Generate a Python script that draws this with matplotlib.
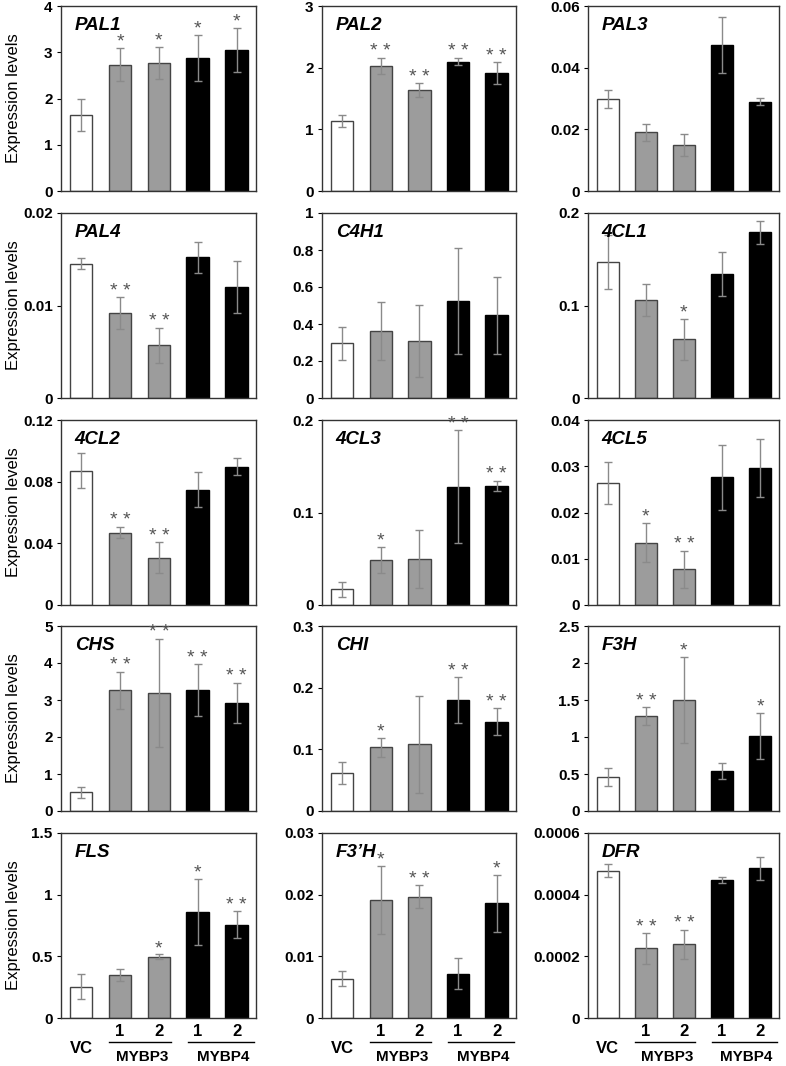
"""Expression levels of phenylpropanoid genes in VC / MYBP3 / MYBP4 lines."""
import numpy as np
import matplotlib
matplotlib.use('Agg')
import matplotlib.pyplot as plt
from matplotlib.transforms import blended_transform_factory

plt.rcParams['font.family'] = ['Liberation Sans', 'DejaVu Sans']

genes = ['PAL1', 'PAL2', 'PAL3', 'PAL4', 'C4H1', '4CL1', '4CL2', '4CL3', '4CL5',
         'CHS', 'CHI', 'F3H', 'FLS', 'F3\u2019H', 'DFR']
ymax = [4, 3, 0.06, 0.02, 1, 0.2, 0.12, 0.2, 0.04, 5, 0.3, 2.5, 1.5, 0.03, 0.0006]
nticks = [4, 3, 3, 2, 5, 2, 3, 2, 4, 5, 3, 5, 3, 3, 3]

# bars: VC, MYBP3-1, MYBP3-2, MYBP4-1, MYBP4-2
means = [
    [1.64, 2.73, 2.77, 2.88, 3.05],
    [1.14, 2.03, 1.64, 2.10, 1.91],
    [0.0298, 0.019, 0.0148, 0.0474, 0.029],
    [0.0145, 0.0092, 0.0057, 0.0152, 0.012],
    [0.297, 0.361, 0.308, 0.526, 0.446],
    [0.147, 0.106, 0.0634, 0.134, 0.179],
    [0.0872, 0.047, 0.0308, 0.0748, 0.0898],
    [0.0171, 0.0487, 0.0498, 0.128, 0.129],
    [0.0264, 0.0135, 0.0077, 0.0276, 0.0296],
    [0.51, 3.27, 3.20, 3.27, 2.92],
    [0.061, 0.103, 0.108, 0.180, 0.145],
    [0.46, 1.28, 1.50, 0.54, 1.01],
    [0.253, 0.349, 0.496, 0.858, 0.757],
    [0.0064, 0.0191, 0.0197, 0.0072, 0.0186],
    [0.000478, 0.000226, 0.000239, 0.000448, 0.000485],
]
errs = [
    [0.35, 0.36, 0.34, 0.50, 0.47],
    [0.10, 0.13, 0.11, 0.06, 0.18],
    [0.0028, 0.0028, 0.0036, 0.009, 0.0011],
    [0.0006, 0.0017, 0.0019, 0.0017, 0.0028],
    [0.089, 0.156, 0.197, 0.286, 0.21],
    [0.029, 0.017, 0.022, 0.024, 0.012],
    [0.0116, 0.0037, 0.0099, 0.0113, 0.0055],
    [0.008, 0.0138, 0.031, 0.061, 0.0055],
    [0.0045, 0.0043, 0.004, 0.0071, 0.0063],
    [0.15, 0.50, 1.46, 0.70, 0.55],
    [0.018, 0.016, 0.079, 0.037, 0.022],
    [0.12, 0.12, 0.58, 0.11, 0.31],
    [0.10, 0.046, 0.02, 0.27, 0.11],
    [0.0012, 0.0055, 0.0018, 0.0025, 0.0046],
    [0.000022, 0.00005, 0.000047, 0.00001, 0.000038],
]
sigs = [
    ['', '*', '*', '*', '*'],
    ['', '**', '**', '**', '**'],
    ['', '', '', '', ''],
    ['', '**', '**', '', ''],
    ['', '', '', '', ''],
    ['', '', '*', '', ''],
    ['', '**', '**', '', ''],
    ['', '*', '', '**', '**'],
    ['', '*', '**', '', ''],
    ['', '**', '**', '**', '**'],
    ['', '*', '', '**', '**'],
    ['', '**', '*', '', '*'],
    ['', '', '*', '*', '**'],
    ['', '*', '**', '', '*'],
    ['', '**', '**', '', ''],
]
bar_colors = ['white', '#9c9c9c', '#9c9c9c', 'black', 'black']
bar_edges = ['#444444', '#444444', '#444444', 'black', 'black']
xtick_labels = ['', '1', '2', '1', '2']
groups = [('MYBP3', 0.72, 2.3), ('MYBP4', 2.75, 4.45)]

W, H = 786, 1066
fig = plt.figure(figsize=(W / 100, H / 100), dpi=100)
col_left = [61, 322, 588]
col_w = [195, 194, 191]
row_top = [6, 213, 420, 626, 833]
ax_h = 185

x = np.arange(5)
for i, gene in enumerate(genes):
    r, c = divmod(i, 3)
    ax = fig.add_axes([col_left[c] / W, 1 - (row_top[r] + ax_h) / H,
                       col_w[c] / W, ax_h / H])
    ax.bar(x, means[i], width=0.58, color=bar_colors, edgecolor=bar_edges,
           linewidth=1.0, zorder=2)
    ax.errorbar(x, means[i], yerr=errs[i], fmt='none', ecolor='#8a8a8a',
                elinewidth=1.0, capsize=3, capthick=1.0, zorder=3)
    for xi, m, e, s in zip(x, means[i], errs[i], sigs[i]):
        if s:
            ax.annotate(' '.join(s), (xi, m + e), xytext=(0, 1),
                        textcoords='offset points', ha='center', va='baseline',
                        fontsize=14, color='#555555')
    ax.set_xlim(-0.52, 4.5)
    ax.set_ylim(0, ymax[i])
    yt = np.linspace(0, ymax[i], nticks[i] + 1)
    ax.set_yticks(yt)
    ax.set_yticklabels(['%g' % round(v, 6) for v in yt])
    ax.tick_params(axis='y', length=3, width=0.8, labelsize=11, pad=3)
    for lab in ax.get_yticklabels():
        lab.set_fontweight('bold')
    for sp in ax.spines.values():
        sp.set_color('#333333')
        sp.set_linewidth(1.0)
    ax.text(0.07, 0.895, gene, transform=ax.transAxes, fontsize=13.5,
            fontweight='bold', fontstyle='italic', va='center', ha='left')
    if c == 0:
        ax.set_ylabel('Expression levels', fontsize=12)
        ax.yaxis.set_label_coords(-0.205, 0.5)
    if r == 4:
        ax.set_xticks(x)
        ax.set_xticklabels(xtick_labels, fontsize=12, fontweight='bold')
        ax.tick_params(axis='x', length=0, pad=4)
        tr = blended_transform_factory(ax.transData, ax.transAxes)
        ax.text(0, -0.165, 'VC', transform=tr, ha='center', va='center',
                fontsize=12, fontweight='bold')
        for name, x0, x1 in groups:
            ax.plot([x0, x1], [-0.13, -0.13], color='black', lw=1.0,
                    transform=tr, clip_on=False)
            ax.text((x0 + x1) / 2 + 0.05, -0.212, name, transform=tr,
                    ha='center', va='center', fontsize=11, fontweight='bold')
    else:
        ax.set_xticks([])

fig.savefig('out.png', dpi=100)
